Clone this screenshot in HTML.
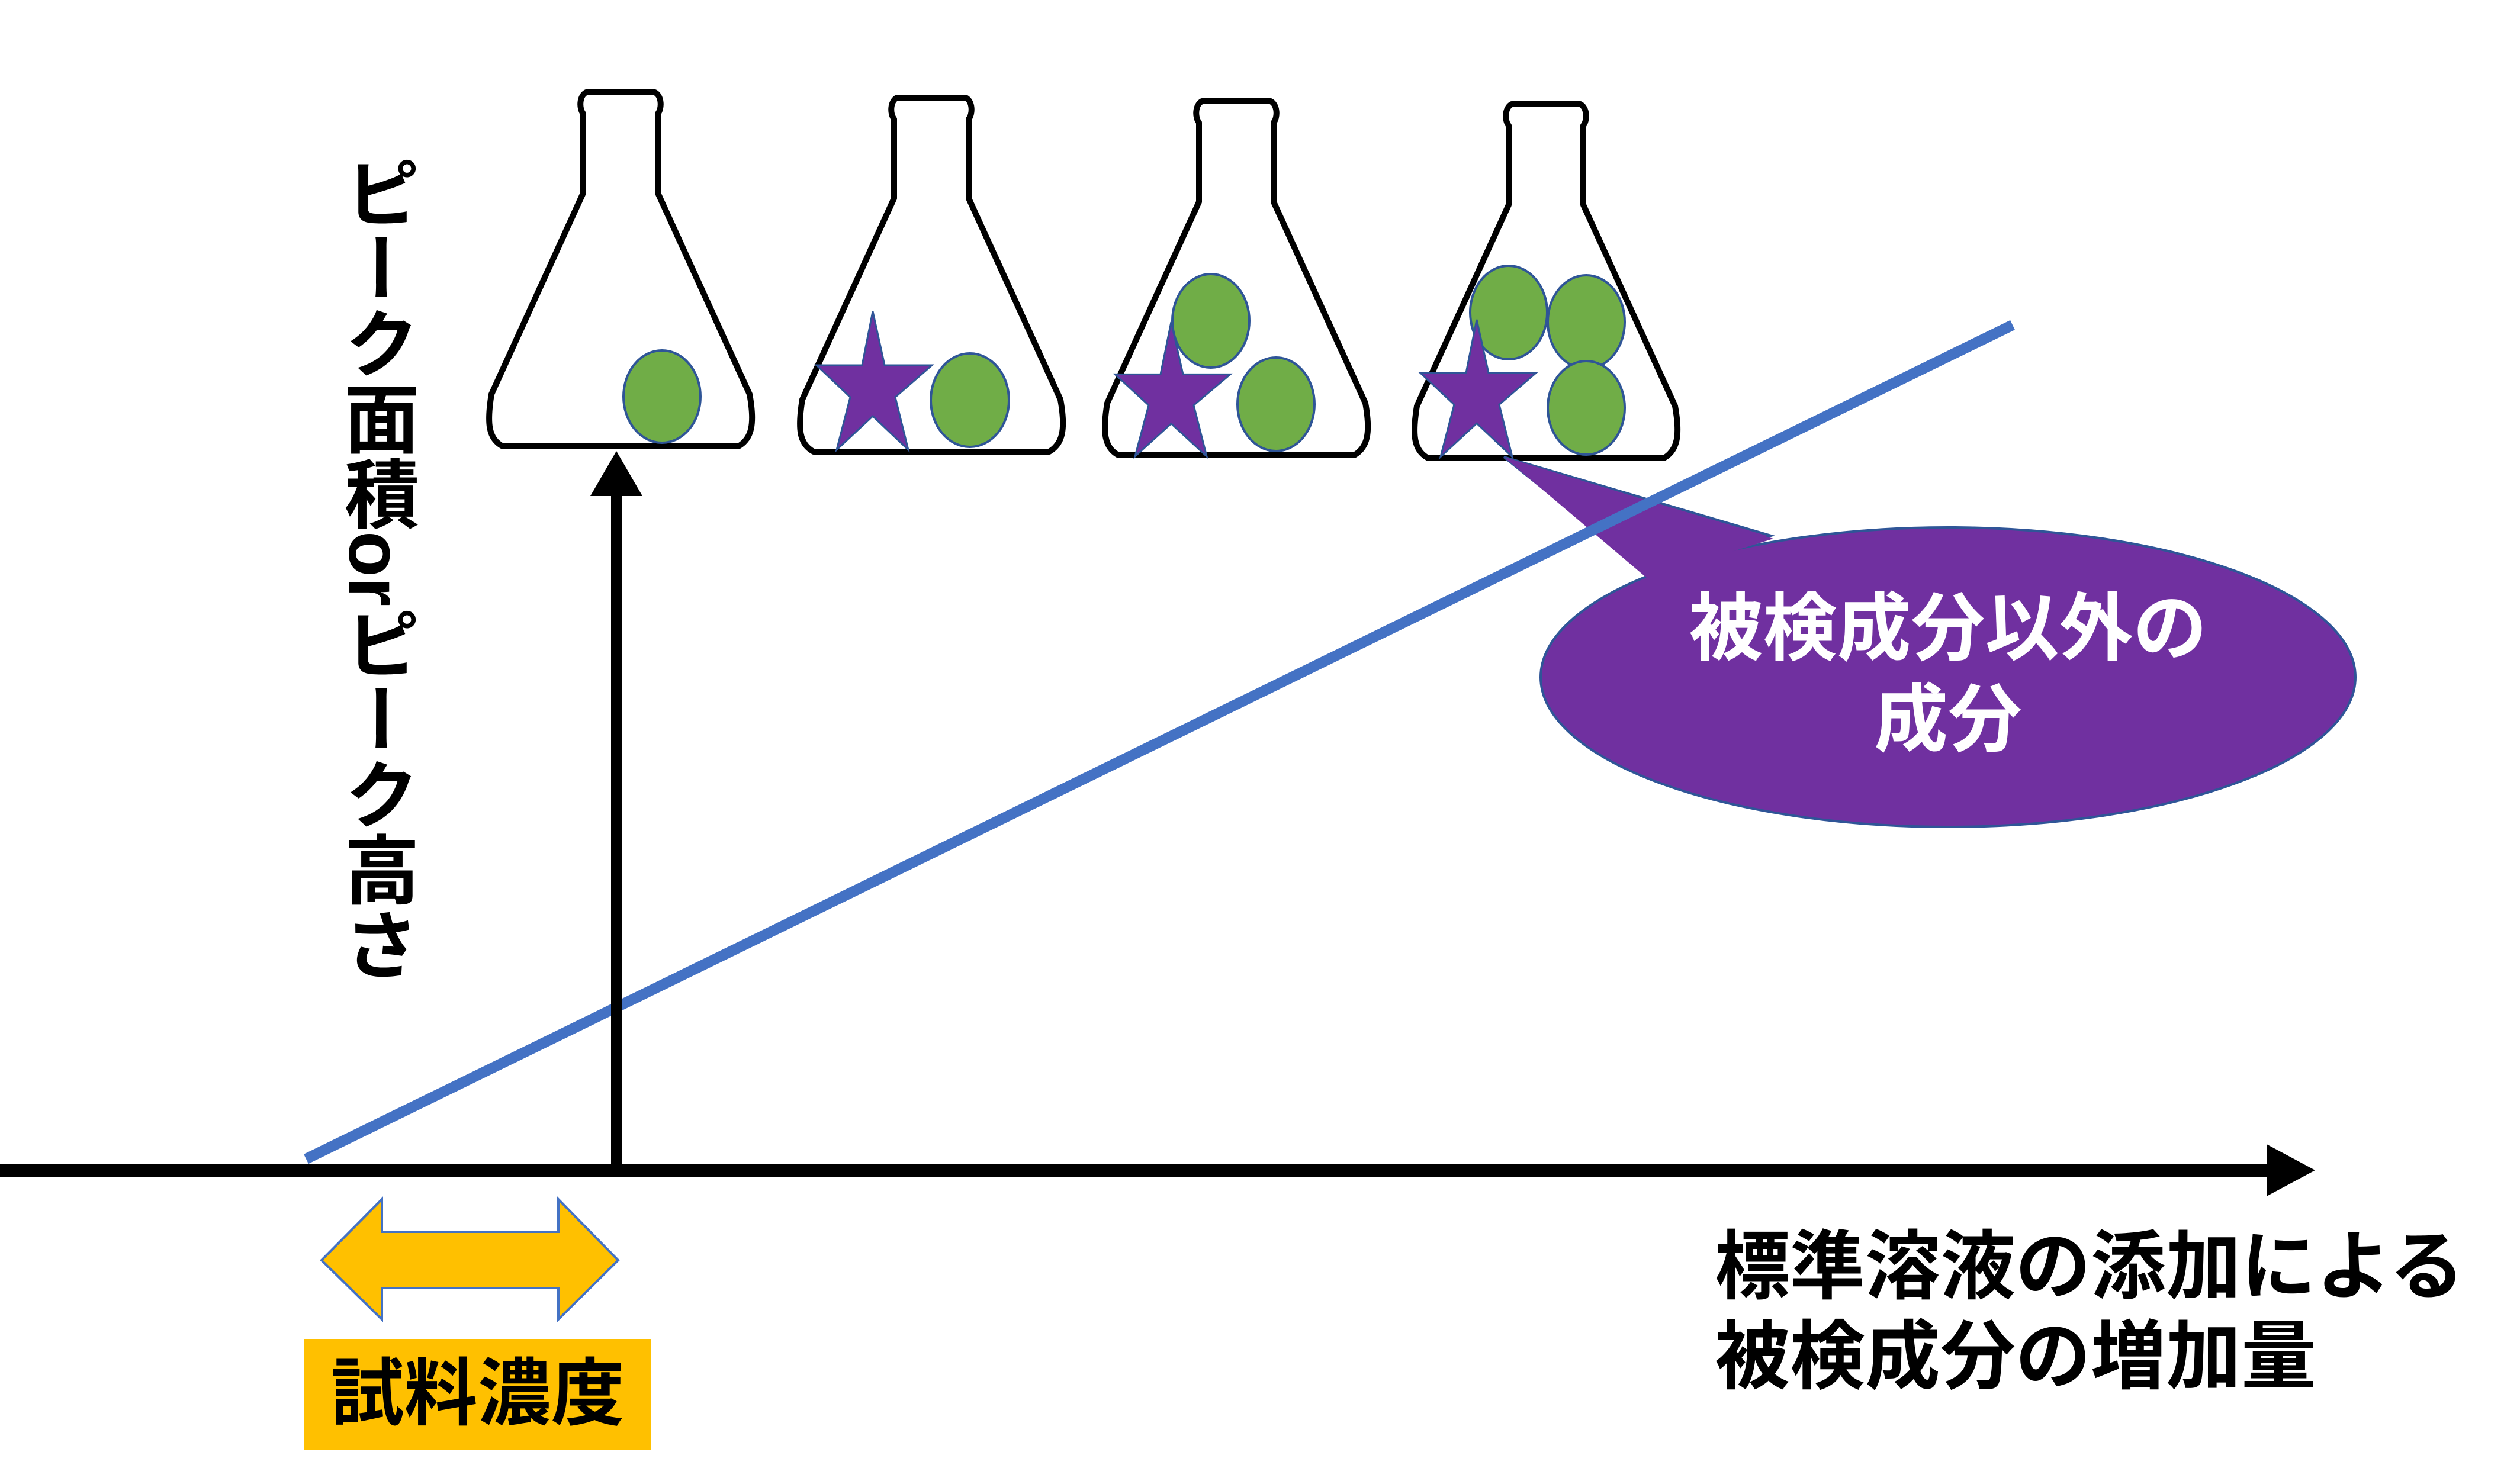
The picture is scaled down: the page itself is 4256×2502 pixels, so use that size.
<!DOCTYPE html>
<html><head><meta charset="utf-8"><style>
html,body{margin:0;padding:0;background:#fff;}
body{width:4256px;height:2502px;position:relative;overflow:hidden;font-family:"Liberation Sans","Noto Sans CJK JP",sans-serif;}
.t{position:absolute;font-weight:bold;white-space:nowrap;line-height:1;}
</style></head><body>
<svg width="4256" height="2502" style="position:absolute;left:0;top:0">
<defs>
<path id="fl" d="M 5,0 H 121 C 133,6 133,28 126,36 V 170 L 281,510 C 290,560 285,585 262,598 H -136 C -160,585 -163,560 -155,510 L 0,170 V 36 C -7,28 -7,6 5,0 Z" fill="#fff" stroke="#000" stroke-width="10" stroke-linejoin="round"/>
<polygon id="st" points="0,0 20,91 100,91 38,145 60,234 0,177 -61,234 -38,145 -95,91 -18,91" fill="#7030A0" stroke="#2F5597" stroke-width="3"/>
</defs>
<use href="#fl" transform="translate(985,156)"/>
<use href="#fl" transform="translate(1510,165)"/>
<use href="#fl" transform="translate(2025,171)"/>
<use href="#fl" transform="translate(2548,176)"/>
<g fill="#70AD47" stroke="#2F5597" stroke-width="4">
<ellipse cx="1118" cy="670" rx="65" ry="78"/>
<ellipse cx="1638" cy="676" rx="66" ry="79"/>
<ellipse cx="2045" cy="542" rx="65" ry="79"/>
<ellipse cx="2155" cy="683" rx="65" ry="79"/>
<ellipse cx="2548" cy="528" rx="65" ry="79"/>
<ellipse cx="2679" cy="544" rx="65" ry="79"/>
<ellipse cx="2679" cy="689" rx="65" ry="79"/>
</g>
<use href="#st" transform="translate(1474,526)"/>
<use href="#st" transform="translate(1978,544) scale(1,0.97)"/>
<use href="#st" transform="translate(2494,540) scale(1,0.99)"/>
<path d="M 2540,772 L 2991,905 L 2787,971 Z" fill="#7030A0" stroke="#2F5597" stroke-width="4"/>
<ellipse cx="3290" cy="1144" rx="688" ry="253" fill="#7030A0" stroke="#2F5597" stroke-width="4"/>
<path d="M 2540,772 L 2995,910 L 2782,977 Z" fill="#7030A0"/>
<line x1="517" y1="1958" x2="3399" y2="549" stroke="#4472C4" stroke-width="18"/>
<line x1="0" y1="1977" x2="3838" y2="1977" stroke="#000" stroke-width="22"/>
<polygon points="3828,1933 3910,1977 3828,2021" fill="#000"/>
<line x1="1041" y1="1977" x2="1041" y2="833" stroke="#000" stroke-width="18"/>
<polygon points="997,838 1041,762 1085,838" fill="#000"/>
<polygon points="543,2129 645,2026 645,2081 943,2081 943,2026 1044,2129 943,2229 943,2176 645,2176 645,2229" fill="#FFC000" stroke="#4472C4" stroke-width="4"/>
<rect x="514" y="2262" width="585" height="187" fill="#FFC000"/>
</svg>
<div class="t" style="left:514px;top:2293px;width:585px;text-align:center;font-size:124px;color:#000;">試料濃度</div>
<div class="t" style="left:570px;top:262px;font-size:127px;writing-mode:vertical-rl;text-orientation:mixed;color:#000;">ピーク面積orピーク高さ</div>
<div class="t" style="left:2896px;top:2077px;font-size:127px;color:#000;">標準溶液の添加による</div>
<div class="t" style="left:2896px;top:2229px;font-size:127px;color:#000;">被検成分の増加量</div>
<div class="t" style="left:2672px;top:1000px;width:1236px;text-align:center;font-size:125px;color:#fff;">被検成分以外の</div>
<div class="t" style="left:2672px;top:1154px;width:1236px;text-align:center;font-size:125px;color:#fff;">成分</div>
</body></html>
